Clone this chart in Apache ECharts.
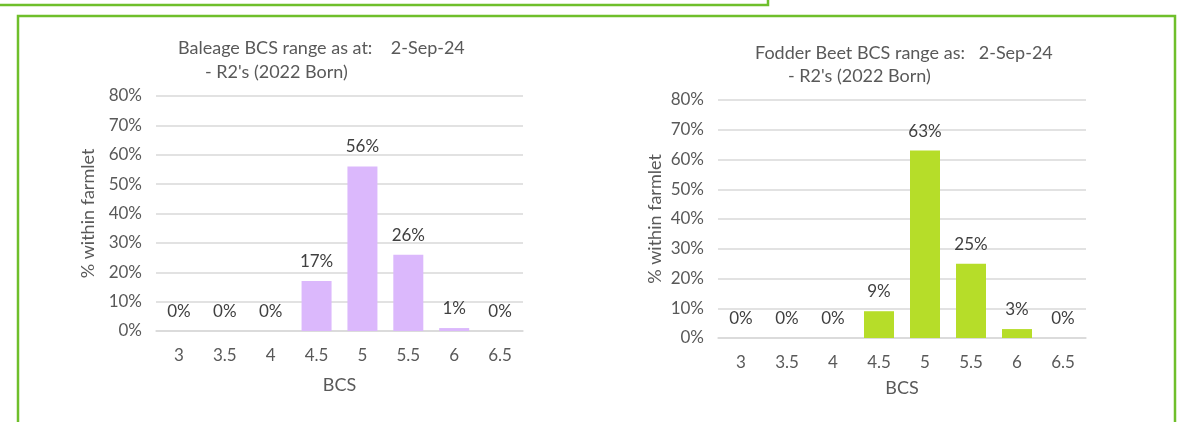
<!DOCTYPE html>
<html>
<head>
<meta charset="utf-8">
<script src="https://cdn.jsdelivr.net/npm/echarts@6/dist/echarts.min.js"></script>
<style>
  html, body { margin: 0; padding: 0; background: #fff; }
  #main { width: 1184px; height: 422px; }
</style>
</head>
<body>
<div id="main"></div>
<script>
var myChart = echarts.init(document.getElementById('main'), null, {renderer: 'canvas'});

// data
var bcs = ['3', '3.5', '4', '4.5', '5', '5.5', '6', '6.5'];
var baleage = [0, 0, 0, 17, 56, 26, 1, 0];
var fodderBeet = [0, 0, 0, 9, 63, 25, 3, 0];
var yTicks = { min: 0, max: 80, step: 10 };

var txt = '#595959';
var font = 'Lato';
var frameGreen = '#6fbf2b';

function yAxisFor(gridIndex, gap) {
    return {
        type: 'value',
        gridIndex: gridIndex,
        min: yTicks.min,
        max: yTicks.max,
        interval: yTicks.step,
        name: '% within farmlet',
        nameLocation: 'middle',
        nameGap: gap,
        nameTextStyle: { color: txt, fontFamily: font, fontSize: 18 },
        axisLine: { show: false },
        axisTick: { show: false },
        axisLabel: { color: txt, fontFamily: font, fontSize: 17, margin: 14, formatter: '{value}%' },
        splitLine: { lineStyle: { color: '#d9d9d9', width: 1.5 } }
    };
}

function xAxisFor(gridIndex, gap) {
    return {
        type: 'category',
        gridIndex: gridIndex,
        data: bcs,
        name: 'BCS',
        nameLocation: 'middle',
        nameGap: gap,
        nameTextStyle: { color: txt, fontFamily: font, fontSize: 18 },
        axisLine: { show: true, lineStyle: { color: '#d9d9d9', width: 1.5 } },
        axisTick: { show: false },
        axisLabel: { color: txt, fontFamily: font, fontSize: 17, margin: 16 },
        splitLine: { show: false }
    };
}

function barSeries(idx, values, color) {
    return {
        type: 'bar',
        xAxisIndex: idx,
        yAxisIndex: idx,
        data: values,
        barWidth: 30,
        itemStyle: { color: color },
        label: {
            show: true,
            position: 'top',
            distance: 11,
            color: '#404040',
            fontFamily: font,
            fontSize: 17,
            formatter: '{c}%'
        }
    };
}

var titleStyle = { color: txt, fontFamily: font, fontSize: 18, fontWeight: 'normal' };

var option = {
    backgroundColor: '#ffffff',
    animation: false,
    title: [
        { text: 'Baleage BCS range as at:    2-Sep-24', left: 178, top: 39, padding: 0, textStyle: titleStyle },
        { text: "- R2's (2022 Born)", left: 205, top: 63, padding: 0, textStyle: titleStyle },
        { text: 'Fodder Beet BCS range as:   2-Sep-24', left: 755, top: 44, padding: 0, textStyle: titleStyle },
        { text: "- R2's (2022 Born)", left: 788, top: 67, padding: 0, textStyle: titleStyle }
    ],
    grid: [
        { left: 156, top: 96, width: 367, height: 235 },
        { left: 718, top: 100, width: 368, height: 238 }
    ],
    xAxis: [xAxisFor(0, 45), xAxisFor(1, 41)],
    yAxis: [yAxisFor(0, 59), yAxisFor(1, 54)],
    series: [
        barSeries(0, baleage, '#dbb8fc'),
        barSeries(1, fodderBeet, '#b6dd29')
    ],
    graphic: [
        { type: 'polyline', shape: { points: [[0, 5], [768, 5], [768, 0]] },
          style: { stroke: frameGreen, lineWidth: 2.5, fill: null } },
        { type: 'polyline', shape: { points: [[18, 422], [18, 16], [1175, 16], [1175, 422]] },
          style: { stroke: frameGreen, lineWidth: 2.5, fill: null } }
    ]
};

myChart.setOption(option);
</script>
</body>
</html>
